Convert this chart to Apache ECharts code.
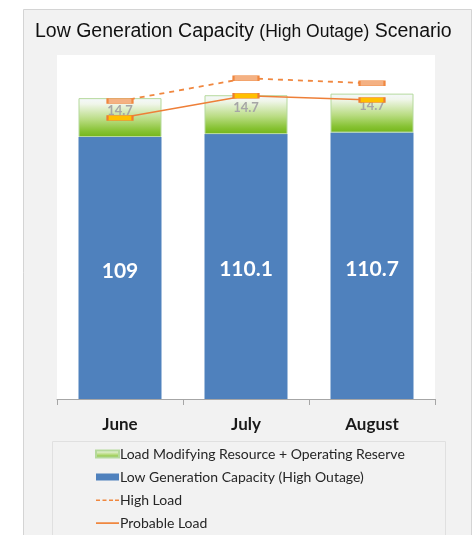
<!DOCTYPE html>
<html>
<head>
<meta charset="utf-8">
<script src="https://cdn.jsdelivr.net/npm/echarts@6/dist/echarts.min.js"></script>
<style>
  html, body { margin: 0; padding: 0; background: #fff; }
  #chart { width: 473px; height: 535px; }
</style>
</head>
<body>
<div id="chart"></div>
<script>
const months = ['June', 'July', 'August']
const lowGenCapacity = [109, 110.1, 110.7]
const lmrReserve = [14.7, 14.7, 14.7]
const highLoad = [122.6, 131.2, 129.3]
const probableLoad = [116.2, 124.6, 123]

const calibriLike = 'Lato, "Open Sans", sans-serif'

const greenFill = new echarts.graphic.LinearGradient(0, 0, 0, 1, [
  { offset: 0, color: '#f5f8fc' },
  { offset: 0.15, color: '#f0f6ea' },
  { offset: 0.55, color: '#b9dc82' },
  { offset: 0.85, color: '#86c232' },
  { offset: 1, color: '#74b51a' },
])

const chart = echarts.init(document.getElementById('chart'), undefined, { renderer: 'canvas' })
chart.setOption({
  backgroundColor: '#fff',
  animation: false,
  graphic: [
    {
      // chart frame
      type: 'rect',
      z: -10,
      shape: { x: 23.5, y: 9.5, width: 448, height: 540 },
      style: { fill: '#f2f2f2', stroke: '#d4d4d4', lineWidth: 1 },
    },
    {
      // legend box
      type: 'rect',
      z: -5,
      shape: { x: 52.5, y: 441.5, width: 393, height: 120 },
      style: { fill: 'none', stroke: '#e0e0e0', lineWidth: 1 },
    },
  ],
  title: {
    left: 30,
    top: 17,
    text: '{a|Low Generation Capacity }{b|(High Outage)}{a| Scenario}',
    textStyle: {
      rich: {
        a: { fontFamily: '"Liberation Sans", Arial, sans-serif', fontSize: 19.5, fontWeight: 'normal', color: '#111' },
        b: { fontFamily: '"Liberation Sans", Arial, sans-serif', fontSize: 17.5, fontWeight: 'normal', color: '#111' },
      },
    },
  },
  grid: {
    left: 57, right: 38, top: 55, bottom: 136,
    show: true, backgroundColor: '#fff', borderWidth: 0,
  },
  xAxis: {
    type: 'category',
    data: months,
    axisLine: { lineStyle: { color: '#a6a6a6', width: 1 } },
    axisTick: { show: true, length: 6, lineStyle: { color: '#a6a6a6' } },
    axisLabel: {
      margin: 17,
      fontFamily: calibriLike,
      fontWeight: 'bold',
      fontSize: 17,
      color: '#1a1a1a',
    },
  },
  yAxis: {
    type: 'value',
    min: 10,
    max: 140,
    show: false,
    splitLine: { show: false },
  },
  legend: {
    orient: 'vertical',
    left: 95,
    top: 446,
    padding: 0,
    itemWidth: 23,
    itemHeight: 7,
    itemGap: 7,
    textStyle: { fontFamily: calibriLike, fontSize: 14, color: '#262626', lineHeight: 16, padding: [0, 0, 0, -4] },
    data: [
      { name: 'Load Modifying Resource + Operating Reserve', icon: 'rect' },
      { name: 'Low Generation Capacity (High Outage)', icon: 'rect' },
      {
        name: 'High Load',
        icon: 'path://M0,0h0.1v0.1h-0.1z M22.9,6.9h0.1v0.1h-0.1z M0,3h4v1.4h-4z M6.5,3h4v1.4h-4z M13,3h4v1.4h-4z M19,3h4v1.4h-4z',
        itemStyle: { color: '#f0873f', borderWidth: 0 },
      },
      {
        name: 'Probable Load',
        icon: 'path://M0,0h0.1v0.1h-0.1z M22.9,6.9h0.1v0.1h-0.1z M0,2.8h23v1.6h-23z',
        itemStyle: { color: '#f0873f', borderWidth: 0 },
      },
    ],
  },
  series: [
    {
      name: 'Low Generation Capacity (High Outage)',
      type: 'bar',
      stack: 'cap',
      barWidth: 83,
      data: lowGenCapacity,
      itemStyle: { color: '#4f81bd' },
      label: {
        show: true,
        position: 'inside',
        offset: [0, 3],
        fontFamily: calibriLike,
        fontWeight: 'bold',
        fontSize: 21,
        color: '#fff',
      },
    },
    {
      name: 'Load Modifying Resource + Operating Reserve',
      type: 'bar',
      stack: 'cap',
      barWidth: 83,
      data: lmrReserve,
      itemStyle: { color: greenFill, borderColor: '#b5d99c', borderWidth: 1 },
      label: {
        show: true,
        position: 'insideTop',
        distance: 6,
        fontFamily: calibriLike,
        fontWeight: 'bold',
        fontSize: 13,
        color: '#a6a6a6',
      },
    },
    {
      name: 'High Load',
      type: 'line',
      data: highLoad,
      symbol: 'rect',
      symbolSize: [25, 5],
      lineStyle: { color: '#f0873f', width: 1.8, type: [5, 5] },
      itemStyle: { color: '#f4b183', borderColor: '#f0873f', borderWidth: 1 },
      z: 5,
    },
    {
      name: 'Probable Load',
      type: 'line',
      data: probableLoad,
      symbol: 'rect',
      symbolSize: [25, 5],
      lineStyle: { color: '#ee7f38', width: 1.5 },
      itemStyle: { color: '#ffc000', borderColor: '#ed7d31', borderWidth: 1 },
      z: 6,
    },
  ],
})
</script>
</body>
</html>
